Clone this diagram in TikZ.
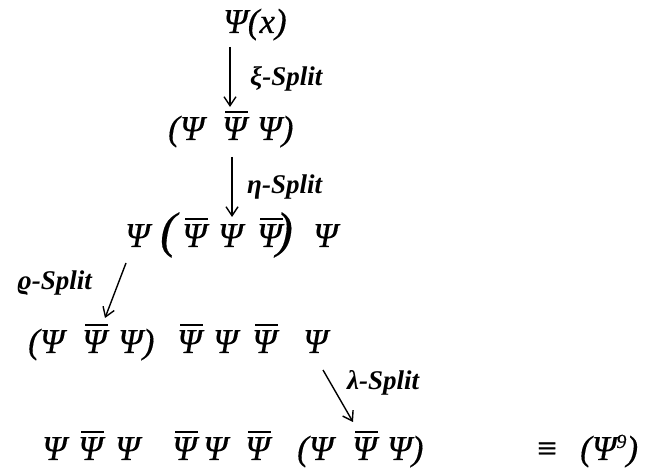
\documentclass[tikz,border=0pt]{standalone}
\usepackage{fontspec}
\setmainfont{Liberation Serif}
\newfontfamily\psif{Liberation Serif}[FakeBold=0.3]
\usetikzlibrary{arrows.meta,calc}
\newcommand\mainf{\psif\fontsize{35}{40}\selectfont\itshape}
\newcommand\bigpf{\psif\fontsize{50}{55}\selectfont\itshape}
\newcommand\labf{\fontsize{27}{30}\selectfont\bfseries\itshape}
\newcommand\supf{\fontsize{20}{22}\selectfont\itshape}
\newcommand\obar[1]{\setbox0\hbox{#1}\rlap{\kern0.08em\rule[0.76em]{\dimexpr\wd0-0.04em\relax}{0.055em}}\box0}
\begin{document}
\begin{tikzpicture}[x=1pt,y=-1pt,
  g/.style={inner sep=0pt,anchor=base west,font=\mainf},
  lab/.style={inner sep=0pt,anchor=west,font=\labf},
  arr/.style={-{Straight Barb[length=9pt,width=12pt]},line width=1.4pt}]
\useasboundingbox (0,0) rectangle (646,470);
% row 1
\node[g] (r1) at (223,33) {Ψ(x)};
% row 2
\node[g] (r2a) at (168,140) {(Ψ};
\node[g] (r2b) at (222,140) {\obar{Ψ}};
\node[g] (r2c) at (257,140) {Ψ)};
% row 3
\node[g] (r3a) at (125,247) {Ψ};
\node[g,font=\bigpf] (r3p) at (160,247) {(};
\node[g] (r3b) at (182,247) {\obar{Ψ}};
\node[g] (r3c) at (218,247) {Ψ};
\node[g] (r3d) at (257,247) {\obar{Ψ}};
\node[g,font=\bigpf] (r3q) at (276,247) {)};
\node[g] (r3e) at (313,247) {Ψ};
% row 4
\node[g] (r4a) at (28,353) {(Ψ};
\node[g] (r4b) at (82,353) {\obar{Ψ}};
\node[g] (r4c) at (118,353) {Ψ)};
\node[g] (r4d) at (177,353) {\obar{Ψ}};
\node[g] (r4e) at (213,353) {Ψ};
\node[g] (r4f) at (252,353) {\obar{Ψ}};
\node[g] (r4g) at (303,353) {Ψ};
% row 5
\node[g] (r5a) at (42,460) {Ψ};
\node[g] (r5b) at (78,460) {\obar{Ψ}};
\node[g] (r5c) at (115,460) {Ψ};
\node[g] (r5d) at (172,460) {\obar{Ψ}};
\node[g] (r5e) at (203,460) {Ψ};
\node[g] (r5f) at (245,460) {\obar{Ψ}};
\node[g] (r5g) at (297,460) {(Ψ};
\node[g] (r5h) at (352,460) {\obar{Ψ}};
\node[g] (r5i) at (387,460) {Ψ)};
\node[g,font=\psif\fontsize{35}{40}\selectfont] (r5j) at (537,460) {≡};
\node[g] (r5k) at (580,460) {(Ψ\raisebox{12pt}{\supf 9})};
% labels
\node[lab] (l1) at (250,79) {ξ-Split};
\node[lab] (l2) at (247,187) {η-Split};
\node[lab] (l3) at (17,283) {ϱ-Split};
\node[lab] (l4) at (347,383) {λ-Split};
% arrows
\draw[arr] ($(r1.base west)+(7,14)$) -- ($(r2b.base west)+(8,-33)$);
\draw[arr] ($(r2b.base west)+(10,17)$) -- ($(r3c.base west)+(14,-30)$);
\draw[arr] ($(r3a.base west)+(1,16)$) -- ($(r4b.base west)+(23,-35)$);
\draw[arr] ($(r4g.base west)+(20,17)$) -- ($(r5h.base west)+(1,-38)$);
\end{tikzpicture}
\end{document}
